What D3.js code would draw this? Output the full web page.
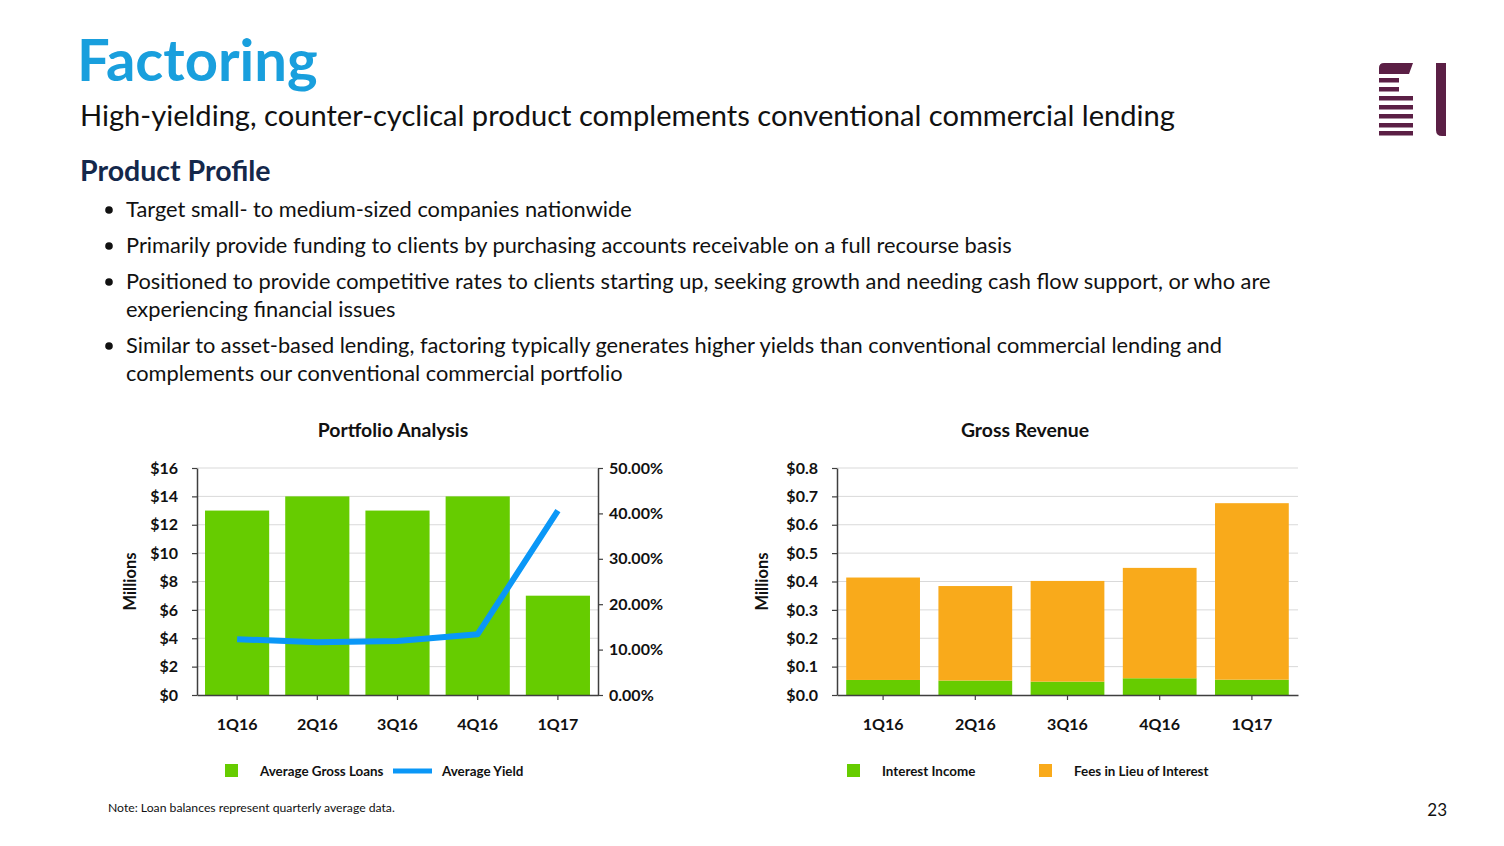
<!DOCTYPE html>
<html><head><meta charset="utf-8">
<script src="https://cdn.jsdelivr.net/npm/d3@7/dist/d3.min.js"></script>
<style>
body{margin:0;background:#fff;}
svg{display:block;font-family:Lato, "Open Sans", sans-serif;}
</style></head>
<body>
<svg id="c" width="1504" height="846"></svg>
<script>
// ---- data ----
const quarters = ["1Q16","2Q16","3Q16","4Q16","1Q17"];
const avgGrossLoans = [13, 14, 13, 14, 7];            // $ millions
const avgYield = [0.123, 0.116, 0.119, 0.134, 0.406];  // fraction
const interestIncome = [0.053, 0.051, 0.047, 0.059, 0.054];   // $ millions
const feesInLieu = [0.361, 0.333, 0.355, 0.389, 0.622];       // $ millions
const leftTicks = [0,2,4,6,8,10,12,14,16];
const rightTicks = [0,0.1,0.2,0.3,0.4,0.5];
const revTicks = [0,0.1,0.2,0.3,0.4,0.5,0.6,0.7,0.8];
const bullets = [
  ["Target small- to medium-sized companies nationwide"],
  ["Primarily provide funding to clients by purchasing accounts receivable on a full recourse basis"],
  ["Positioned to provide competitive rates to clients starting up, seeking growth and needing cash flow support, or who are","experiencing financial issues"],
  ["Similar to asset-based lending, factoring typically generates higher yields than conventional commercial lending and","complements our conventional commercial portfolio"]
];

const GREEN="#66CC00", ORANGE="#F9AA1B", BLUE="#0A97F7", GRID="#D9D9D9", AXIS="#3F3F3F";
const svg = d3.select("#c");
svg.append("rect").attr("width",1504).attr("height",846).attr("fill","#fff");

// ---- header ----
svg.append("text").attr("x",77).attr("y",81).attr("font-size",58).attr("font-weight",700)
  .attr("fill","#199FDD").text("Factoring");
svg.append("text").attr("x",80).attr("y",126).attr("font-size",29.1).attr("fill","#111")
  .text("High-yielding, counter-cyclical product complements conventional commercial lending");
svg.append("text").attr("x",80).attr("y",181).attr("font-size",28.5).attr("font-weight",700)
  .attr("fill","#14284B").text("Product Profile");

const lineYs = [217, 253, 289, 317, 353, 381];
let li = 0;
bullets.forEach(b => {
  svg.append("circle").attr("cx",109).attr("cy",lineYs[li]-7).attr("r",3.8).attr("fill","#111");
  b.forEach(t => {
    svg.append("text").attr("x",126).attr("y",lineYs[li]).attr("font-size",21.8).attr("fill","#111").text(t);
    li++;
  });
});

// ---- logo ----
const logo = svg.append("g").attr("fill","#5B1F45");
logo.append("path").attr("d","M1384,63 L1413,63 L1409,74 L1379,74 L1379,68 Q1379,63 1384,63 Z");
[[78,1399],[87,1399],[96,1413],[105,1413],[114,1413],[123,1413],[131,1413]].forEach(([y,x2])=>{
  logo.append("rect").attr("x",1379).attr("y",y).attr("width",x2-1379).attr("height",4.5);
});
logo.append("path").attr("d","M1436,63 L1446,63 L1446,136 L1442,136 Q1436,136 1436,130 Z");

// ---- left chart: Portfolio Analysis ----
const L = {x0:197, x1:598, y0:695, y1:468};
const xL = d3.scaleBand().domain(quarters).range([L.x0,L.x1]).paddingInner(0.2).paddingOuter(0.1);
const yL = d3.scaleLinear().domain([0,16]).range([L.y0,L.y1]);
const yR = d3.scaleLinear().domain([0,0.5]).range([L.y0,L.y1]);

svg.append("text").attr("x",393).attr("y",437).attr("text-anchor","middle")
  .attr("font-size",19.4).attr("font-weight",700).attr("fill","#111").text("Portfolio Analysis");

const gL = svg.append("g");
gL.selectAll("line.grid").data(leftTicks.slice(1)).join("line")
  .attr("x1",L.x0).attr("x2",L.x1).attr("y1",d=>yL(d)).attr("y2",d=>yL(d))
  .attr("stroke",GRID).attr("stroke-width",1);
gL.selectAll("rect.bar").data(quarters).join("rect")
  .attr("x",d=>xL(d)).attr("width",xL.bandwidth())
  .attr("y",(d,i)=>yL(avgGrossLoans[i])).attr("height",(d,i)=>L.y0-yL(avgGrossLoans[i]))
  .attr("fill",GREEN);
gL.append("path").datum(avgYield)
  .attr("d", d3.line().x((d,i)=>xL(quarters[i])+xL.bandwidth()/2).y(d=>yR(d)))
  .attr("fill","none").attr("stroke",BLUE).attr("stroke-width",6).attr("stroke-linejoin","round");

function styleAxis(g){
  g.selectAll("path.domain").attr("stroke",AXIS).attr("stroke-width",1.5);
  g.selectAll(".tick line").attr("stroke",AXIS).attr("stroke-width",1.2);
  g.selectAll("text").attr("font-size",16).attr("font-weight",700).attr("fill","#111")
    .attr("font-family","Lato, sans-serif");
}
const axL = svg.append("g").attr("transform",`translate(${L.x0},0)`)
  .call(d3.axisLeft(yL).tickValues(leftTicks).tickFormat(d=>"$"+d).tickSizeInner(5).tickSizeOuter(0).tickPadding(14));
styleAxis(axL);
const axR = svg.append("g").attr("transform",`translate(${L.x1},0)`)
  .call(d3.axisRight(yR).tickValues(rightTicks).tickFormat(d3.format(".2%")).tickSizeInner(5).tickSizeOuter(0).tickPadding(6));
styleAxis(axR);
const axB = svg.append("g").attr("transform",`translate(0,${L.y0})`)
  .call(d3.axisBottom(xL).tickSizeInner(5).tickSizeOuter(0).tickPadding(19));
styleAxis(axB);
svg.append("text").attr("transform",`translate(136,${(L.y0+L.y1)/2}) rotate(-90)`)
  .attr("text-anchor","middle").attr("font-size",16.5).attr("font-weight",700).attr("fill","#111").text("Millions");

// legend left
svg.append("rect").attr("x",225).attr("y",764).attr("width",13).attr("height",13).attr("fill",GREEN);
svg.append("text").attr("x",260).attr("y",776).attr("font-size",13.4).attr("font-weight",700).attr("fill","#111").text("Average Gross Loans");
svg.append("line").attr("x1",393).attr("x2",432).attr("y1",771).attr("y2",771).attr("stroke",BLUE).attr("stroke-width",5);
svg.append("text").attr("x",442).attr("y",776).attr("font-size",13.4).attr("font-weight",700).attr("fill","#111").text("Average Yield");

// ---- right chart: Gross Revenue ----
const R = {x0:837, x1:1298, y0:695, y1:468};
const xG = d3.scaleBand().domain(quarters).range([R.x0,R.x1]).paddingInner(0.2).paddingOuter(0.1);
const yG = d3.scaleLinear().domain([0,0.8]).range([R.y0,R.y1]);

svg.append("text").attr("x",1025).attr("y",437).attr("text-anchor","middle")
  .attr("font-size",19.4).attr("font-weight",700).attr("fill","#111").text("Gross Revenue");

const gR = svg.append("g");
gR.selectAll("line.grid").data(revTicks.slice(1)).join("line")
  .attr("x1",R.x0).attr("x2",R.x1).attr("y1",d=>yG(d)).attr("y2",d=>yG(d))
  .attr("stroke",GRID).attr("stroke-width",1);
const stackData = quarters.map((q,i)=>({q, interest:interestIncome[i], fees:feesInLieu[i]}));
const series = d3.stack().keys(["interest","fees"])(stackData);
const colors = {interest:GREEN, fees:ORANGE};
series.forEach(s=>{
  gR.append("g").attr("fill",colors[s.key]).selectAll("rect").data(s).join("rect")
    .attr("x",d=>xG(d.data.q)).attr("width",xG.bandwidth())
    .attr("y",d=>yG(d[1])).attr("height",d=>yG(d[0])-yG(d[1]));
});
const axG = svg.append("g").attr("transform",`translate(${R.x0},0)`)
  .call(d3.axisLeft(yG).tickValues(revTicks).tickFormat(d=>"$"+d.toFixed(1)).tickSizeInner(5).tickSizeOuter(0).tickPadding(14));
styleAxis(axG);
const axGB = svg.append("g").attr("transform",`translate(0,${R.y0})`)
  .call(d3.axisBottom(xG).tickSizeInner(5).tickSizeOuter(0).tickPadding(19));
styleAxis(axGB);
svg.append("text").attr("transform",`translate(768,${(R.y0+R.y1)/2}) rotate(-90)`)
  .attr("text-anchor","middle").attr("font-size",16.5).attr("font-weight",700).attr("fill","#111").text("Millions");

// legend right
svg.append("rect").attr("x",847).attr("y",764).attr("width",13).attr("height",13).attr("fill",GREEN);
svg.append("text").attr("x",882).attr("y",776).attr("font-size",13.4).attr("font-weight",700).attr("fill","#111").text("Interest Income");
svg.append("rect").attr("x",1039).attr("y",764).attr("width",13).attr("height",13).attr("fill",ORANGE);
svg.append("text").attr("x",1074).attr("y",776).attr("font-size",13.4).attr("font-weight",700).attr("fill","#111").text("Fees in Lieu of Interest");

// ---- footer ----
svg.append("text").attr("x",108).attr("y",812).attr("font-size",12.2).attr("fill","#111")
  .text("Note: Loan balances represent quarterly average data.");
svg.append("text").attr("x",1447).attr("y",816).attr("text-anchor","end").attr("font-size",17).attr("fill","#111").text("23");
</script>
</body></html>
